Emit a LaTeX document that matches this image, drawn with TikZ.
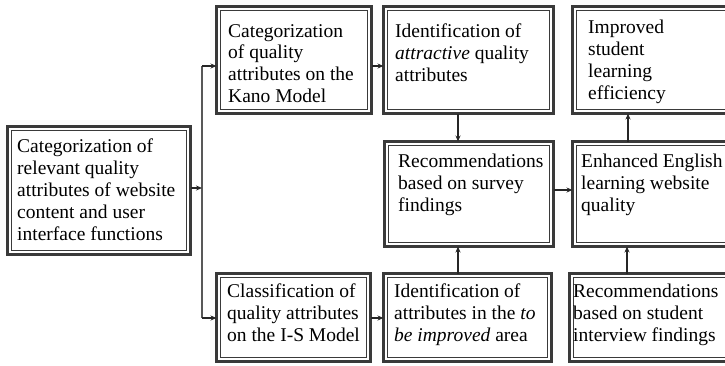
\documentclass[tikz,border=0pt]{standalone}
\usepackage{fontspec}
\setmainfont{Liberation Serif}
\usetikzlibrary{arrows.meta}
\definecolor{boxline}{HTML}{3A3A3A}
\tikzset{
  dbox/.style={draw=boxline, line width=3pt, fill=white, inner sep=0pt, outer sep=0pt},
  innerline/.style={draw=boxline, line width=0.9pt},
  txt/.style={anchor=north west, inner sep=0pt, align=left, font=\fontsize{19.5}{21.8}\selectfont},
  conn/.style={draw=black!85, line width=1.3pt, -{Stealth[length=6pt,width=5pt]}},
  trunk/.style={draw=black!65, line width=1.5pt}
}
\begin{document}
\begin{tikzpicture}[x=1pt,y=-1pt]
\useasboundingbox (0,0) rectangle (725,365);
\clip (0,0) rectangle (725,365);
% boxes
\node[dbox, minimum width=183pt, minimum height=128pt] (L) at (99,190.5) {};
\node[dbox, minimum width=155pt, minimum height=107pt] (K) at (294,60) {};
\node[dbox, minimum width=170pt, minimum height=107pt] (A) at (468.5,60) {};
\node[dbox, minimum width=171pt, minimum height=107pt] (I) at (658,60) {};
\node[dbox, minimum width=169pt, minimum height=105pt] (R) at (469,194) {};
\node[dbox, minimum width=171pt, minimum height=105pt] (E) at (658,194) {};
\node[dbox, minimum width=154pt, minimum height=88pt] (C) at (293.5,317.5) {};
\node[dbox, minimum width=168pt, minimum height=88pt] (T) at (467.5,317.5) {};
\node[dbox, minimum width=174pt, minimum height=88pt] (V) at (656.5,317.5) {};
\foreach \n in {L,K,A,I,R,E,C,T,V}
  \draw[innerline] ([shift={(4pt,4pt)}]\n.south west) rectangle ([shift={(-4pt,-4pt)}]\n.north east);
% texts
\node[txt] (tL) at (17,139) {Categorization of\\relevant quality\\attributes of website\\content and user\\interface functions};
\node[txt] (tK) at (228,24) {Categorization\\of quality\\attributes on the\\Kano Model};
\node[txt] (tA) at (395,24) {Identification of\\\textit{attractive} quality\\attributes};
\node[txt] (tI) at (588,20) {Improved\\student\\learning\\efficiency};
\node[txt] (tR) at (398,154) {Recommendations\\based on survey\\findings};
\node[txt] (tE) at (581,154) {Enhanced English\\learning website\\quality};
\node[txt] (tC) at (227,284) {Classification of\\quality attributes\\on the I-S Model};
\node[txt] (tT) at (394,284) {Identification of\\attributes in the \textit{to}\\\textit{be improved} area};
\node[txt] (tV) at (573,284) {Recommendations\\based on student\\interview findings};
% connectors
\coordinate (jm) at (202,188);
\coordinate (jt) at (202,66);
\coordinate (jb) at (202,318);
\draw[trunk] (jt) -- (jb);
\draw[conn] (L.east |- jm) -- (jm);
\draw[conn] (jt) -- (K.west |- jt);
\draw[conn] (jb) -- (C.west |- jb);
\coordinate (ka) at (0,66);
\draw[conn] (K.east |- ka) -- (A.west |- ka);
\coordinate (ct) at (0,318);
\draw[conn] (C.east |- ct) -- (T.west |- ct);
\coordinate (xar) at (458,0);
\draw[conn] (A.south -| xar) -- (R.north -| xar);
\draw[conn] (T.north -| xar) -- (R.south -| xar);
\coordinate (re) at (0,190);
\draw[conn] (R.east |- re) -- (E.west |- re);
\coordinate (xei) at (628,0);
\draw[conn] (E.north -| xei) -- (I.south -| xei);
\coordinate (xve) at (627,0);
\draw[conn] (V.north -| xve) -- (E.south -| xve);
\end{tikzpicture}
\end{document}
